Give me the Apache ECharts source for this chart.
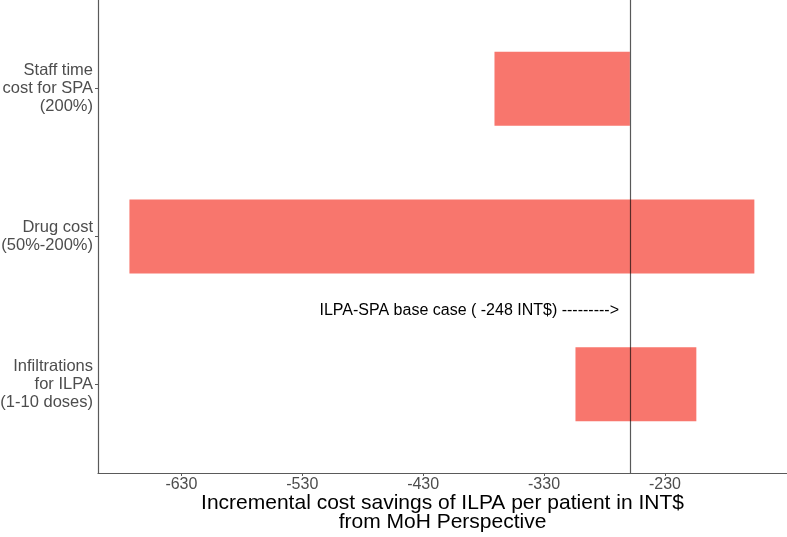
<!DOCTYPE html>
<html>
<head>
<meta charset="utf-8">
<script src="https://cdn.jsdelivr.net/npm/echarts@6/dist/echarts.min.js"></script>
<style>
  html, body { margin: 0; padding: 0; background: #fff; }
  #main { width: 787px; height: 537px; }
</style>
</head>
<body>
<div id="main"></div>
<script>
// tornado chart - sensitivity of ILPA vs SPA
var categories = ['Staff time\ncost for SPA\n(200%)', 'Drug cost\n(50%-200%)', 'Infiltrations\nfor ILPA\n(1-10 doses)'];
var lowValues = [-371, -673, -304];
var highValues = [-259, -156, -204];
var baseCase = -259;
var xTicks = [-630, -530, -430, -330, -230];
var annotationText = 'ILPA-SPA base case ( -248 INT$) --------->';

var chart = echarts.init(document.getElementById('main'), null, { renderer: 'canvas' });

var barData = categories.map(function (c, i) {
  return [i + 1, lowValues[i], highValues[i]];
});

var option = {
  backgroundColor: '#ffffff',
  animation: false,
  grid: { left: 98, right: 0, top: 0, bottom: 64, containLabel: false, outerBoundsMode: 'none' },
  xAxis: {
    type: 'value',
    min: -699,
    max: -129,
    splitLine: { show: false },
    axisLine: { show: true, lineStyle: { color: '#5a5a5a', width: 1.2 } },
    axisTick: { show: true, length: 3, customValues: xTicks, lineStyle: { color: '#5a5a5a' } },
    axisLabel: {
      customValues: xTicks,
      margin: 4,
      fontSize: 16,
      color: '#4d4d4d',
      fontFamily: 'Liberation Sans'
    },
    name: 'Incremental cost savings of ILPA per patient in INT$\nfrom MoH Perspective',
    nameLocation: 'middle',
    nameGap: 21,
    nameMoveOverlap: false,
    nameTextStyle: { fontSize: 21, lineHeight: 19, color: '#000', fontFamily: 'Liberation Sans' }
  },
  yAxis: {
    type: 'value',
    inverse: true,
    min: 0.4,
    max: 3.6,
    splitLine: { show: false },
    axisLine: { show: true, lineStyle: { color: '#5a5a5a', width: 1.2 } },
    axisTick: { show: true, length: 3, customValues: [1, 2, 3], lineStyle: { color: '#5a5a5a' } },
    axisLabel: {
      customValues: [1, 2, 3],
      margin: 5,
      fontSize: 16.5,
      lineHeight: 18,
      align: 'right',
      color: '#4d4d4d',
      fontFamily: 'Liberation Sans',
      formatter: function (v) { return categories[Math.round(v) - 1]; }
    }
  },
  series: [{
    type: 'custom',
    data: barData,
    encode: { x: [1, 2], y: 0 },
    renderItem: function (params, api) {
      var y = api.value(0);
      var p1 = api.coord([api.value(1), y]);
      var p2 = api.coord([api.value(2), y]);
      var h = api.size([0, 0.5])[1];
      return {
        type: 'rect',
        shape: { x: p1[0], y: p1[1] - h / 2, width: p2[0] - p1[0], height: h },
        style: { fill: '#F8766D' }
      };
    },
    markLine: {
      silent: true,
      symbol: 'none',
      label: { show: false },
      lineStyle: { color: 'rgba(0,0,0,0.65)', width: 1.2, type: 'solid' },
      data: [{ xAxis: baseCase }]
    }
  }]
};
chart.setOption(option);

// annotation text (placed in data coordinates)
var pos = chart.convertToPixel({ gridIndex: 0 }, [-268, 2.5]);
chart.setOption({
  graphic: [{
    type: 'text',
    x: pos[0],
    y: pos[1],
    style: {
      text: annotationText,
      fontSize: 16,
      fontFamily: 'Liberation Sans',
      fill: '#000',
      align: 'right',
      verticalAlign: 'middle'
    }
  }]
});
</script>
</body>
</html>
